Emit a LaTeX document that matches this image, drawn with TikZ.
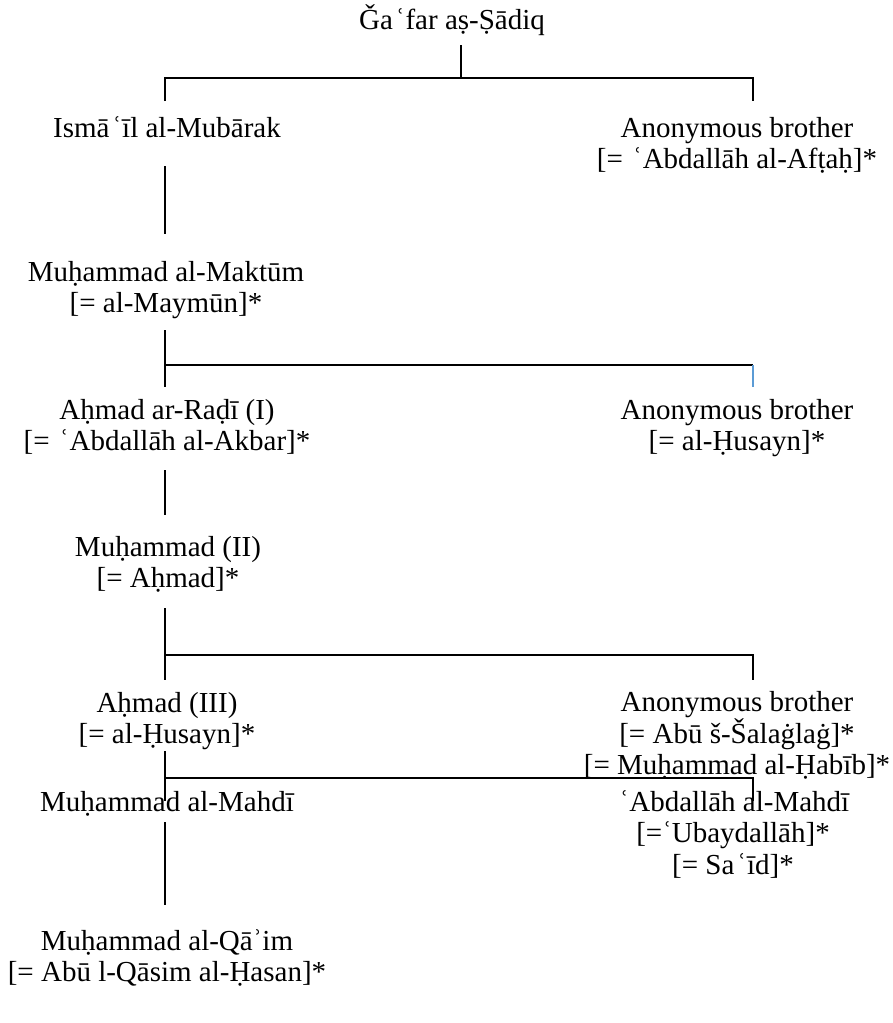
\documentclass[tikz,border=0pt]{standalone}
\usepackage{fontspec}
\setmainfont{Liberation Serif}
\newcommand\ayn{\kern2.5ptʿ\kern0.5pt}
\begin{document}
\begin{tikzpicture}[x=1pt,y=-1pt,
  person/.style={align=center,anchor=base,inner sep=0pt,font=\fontsize{29}{31.5}\selectfont},
  tree/.style={line width=1.1pt,black},
  bluetree/.style={line width=1.1pt,color={rgb,255:red,91;green,155;blue,213}}]
\useasboundingbox (0,0) rectangle (892,1023);
% persons (anchor = baseline of the last line)
\node[person] (title)  at (452,29)    {Ǧa\ayn far aṣ-Ṣādiq};
\node[person] (ismail) at (167,137)   {Ismā\ayn īl al-Mubārak};
\node[person] (anon1)  at (737,168.5) {Anonymous brother\\{[}= \ayn Abdallāh al-Afṭaḥ]*};
\node[person] (maktum) at (166,312.5) {Muḥammad al-Maktūm\\{[}= al-Maymūn]*};
\node[person] (radi)   at (167,450.5) {Aḥmad ar-Raḍī (I)\\{[}= \ayn Abdallāh al-Akbar]*};
\node[person] (anon2)  at (737,450.5) {Anonymous brother\\{[}= al-Ḥusayn]*};
\node[person] (m2)     at (168,587.5) {Muḥammad (II)\\{[}= Aḥmad]*};
\node[person] (a3)     at (167,743.5) {Aḥmad (III)\\{[}= al-Ḥusayn]*};
\node[person] (anon3)  at (737,774.5) {Anonymous brother\\{[}= Abū š-Šalaġlaġ]*\\{[}= Muḥammad al-Ḥabīb]*};
\node[person] (mahdi)  at (167,811)   {Muḥammad al-Mahdī};
\node[person] (abd)    at (733,874)   {\ayn Abdallāh al-Mahdī\\{[}=ʿUbaydallāh]*\\{[}= Sa\ayn īd]*};
\node[person] (qaim)   at (167,981.5) {Muḥammad al-Qāʾim\\{[}= Abū l-Qāsim al-Ḥasan]*};
% branch points
\coordinate (t0) at (461,45);
\coordinate (t1) at (461,78);
\coordinate (l1) at (165,78);
\coordinate (r1) at (753,78);
\coordinate (l1e) at (165,101);
\coordinate (r1e) at (753,101);
\coordinate (v2a) at (165,166);
\coordinate (v2b) at (165,234);
\coordinate (v3a) at (165,330);
\coordinate (l3) at (165,365);
\coordinate (r3) at (753,365);
\coordinate (l3e) at (165,387);
\coordinate (r3e) at (753,387);
\coordinate (v4a) at (165,470);
\coordinate (v4b) at (165,515);
\coordinate (v5a) at (165,608);
\coordinate (l5) at (165,655);
\coordinate (r5) at (753,655);
\coordinate (l5e) at (165,680);
\coordinate (r5e) at (753,680);
\coordinate (v6a) at (165,751);
\coordinate (l6) at (165,778);
\coordinate (r6) at (753,778);
\coordinate (l6e) at (165,801);
\coordinate (r6e) at (753,801);
\coordinate (v7a) at (165,822);
\coordinate (v7b) at (165,905);
% connectors
\draw[tree] (t0) -- (t1);
\draw[tree] (l1e) -- (l1) -- (r1) -- (r1e);
\draw[tree] (v2a) -- (v2b);
\draw[tree] (v3a) -- (l3e);
\draw[tree] (l3) -- (r3);
\draw[bluetree] (r3) -- (r3e);
\draw[tree] (v4a) -- (v4b);
\draw[tree] (v5a) -- (l5e);
\draw[tree] (l5) -- (r5) -- (r5e);
\draw[tree] (v6a) -- (l6e);
\draw[tree] (l6) -- (r6) -- (r6e);
\draw[tree] (v7a) -- (v7b);
\end{tikzpicture}
\end{document}
